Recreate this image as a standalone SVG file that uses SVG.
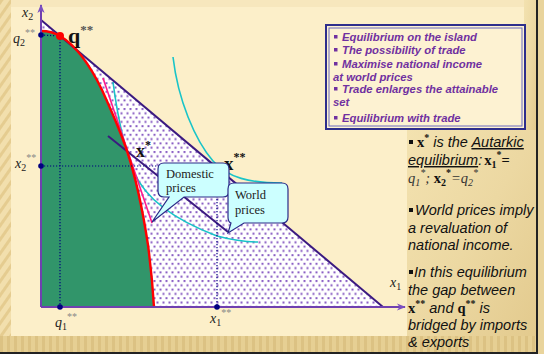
<svg xmlns="http://www.w3.org/2000/svg" width="544" height="354" viewBox="0 0 544 354">
<defs>
<pattern id="dots" width="6" height="8.6" patternUnits="userSpaceOnUse">
<rect width="6" height="8.6" fill="#ffffff"/>
<rect x="0.5" y="0.5" width="2" height="2" fill="#8a5ec4"/>
<rect x="3.5" y="4.8" width="2" height="2" fill="#8a5ec4"/>
</pattern>
<pattern id="stripes" width="8" height="8" patternUnits="userSpaceOnUse" patternTransform="rotate(35)">
<rect width="8" height="8" fill="#f2dfad"/>
<rect width="3" height="8" fill="#e5cc90"/>
</pattern>
<pattern id="vstripes" width="7" height="10" patternUnits="userSpaceOnUse">
<rect width="7" height="10" fill="#e6cf93"/>
<rect width="3" height="10" fill="#dcc283"/>
</pattern>
<linearGradient id="wood" x1="0" y1="0" x2="1" y2="1">
<stop offset="0" stop-color="#f3e2b0"/>
<stop offset="0.5" stop-color="#ecd8a2"/>
<stop offset="1" stop-color="#e2c98c"/>
</linearGradient>
<marker id="arr" viewBox="0 0 10 10" refX="9" refY="5" markerWidth="11" markerHeight="9" markerUnits="userSpaceOnUse" orient="auto">
<path d="M0,1 L10,5 L0,9 L3,5 Z" fill="#7b4fc0"/>
</marker>
</defs>
<style>
.lbl{font-family:"Liberation Serif","Times New Roman",serif;font-style:italic;font-size:14px;fill:#222;}
.sub{font-size:10px;font-style:normal;}
.ast{fill:#888;font-size:10px;font-style:normal;}
.bold{font-family:"Liberation Serif","Times New Roman",serif;font-weight:bold;fill:#111;}
.box{font-family:"Liberation Sans",Arial,sans-serif;font-weight:bold;font-style:italic;font-size:11.3px;fill:#7030a0;}
.body{font-family:"Liberation Sans",Arial,sans-serif;font-style:italic;font-size:14.5px;fill:#111;}
.bx{font-family:"Liberation Serif","Times New Roman",serif;font-weight:bold;font-style:normal;}
.sq{font-family:"Liberation Serif","Times New Roman",serif;font-style:italic;fill:#333;}
.bub{fill:#ccffff;stroke:#2a2a88;stroke-width:1.2;}
.bubt{font-family:"Liberation Serif","Times New Roman",serif;font-size:12.5px;fill:#222;}
.dotl{stroke:#000080;stroke-width:1.2;stroke-dasharray:1.2 1.8;fill:none;}
.nd{fill:#000080;}
</style>

<g id="background">
<rect width="544" height="354" fill="#e9d49c"/>
<rect x="0" y="0" width="11" height="354" fill="url(#stripes)"/>
<rect x="407" y="128" width="130" height="224" fill="url(#wood)"/>
<rect x="524" y="0" width="13" height="130" fill="url(#wood)"/>
<rect x="0" y="336" width="537" height="16" fill="url(#vstripes)"/>
<path d="M11,0 H524 V130 H407 V336 H11 Z" fill="#fcefc9"/>
<rect x="11" y="0" width="513" height="7" fill="#f7e7bd"/>
<rect x="536" y="0" width="2" height="354" fill="#222"/>
<rect x="0" y="352" width="538" height="2" fill="#222"/>
</g>

<g id="regions">
<path id="attainable" d="M41,20 L383,307 L41,307 Z" fill="url(#dots)"/>
<path id="ppf-area" d="M41,31 C48,31 55,33 60,36 C75,45 90,65 102,90 C112,112 121,133 127,151 C135,175 143,212 148,245 C151,268 153,290 154,307 L41,307 Z" fill="#31956a"/>
</g>

<g id="connectors">
<path d="M113,82 C118,120 125,150 134,172 C145,198 175,220 217,236 C232,240 245,242 258,242" fill="none" stroke="#19c4c8" stroke-width="1.6"/>
<path d="M173,57 C178,100 195,140 213,161 C228,178 250,183 282,183" fill="none" stroke="#19c4c8" stroke-width="1.6"/>
<line x1="103" y1="78" x2="152" y2="223" stroke="#ff1a8c" stroke-width="1.6"/>
<line x1="41" y1="20" x2="383" y2="307" stroke="#3b1a80" stroke-width="2"/>
<line x1="108" y1="136" x2="228" y2="232" stroke="#3b1a80" stroke-width="2"/>
<path d="M41,31 C48,31 55,33 60,36 C75,45 90,65 102,90 C112,112 121,133 127,151 C135,175 143,212 148,245 C151,268 153,290 154,307" fill="none" stroke="#ff0000" stroke-width="2.4"/>
<path class="dotl" d="M41,35 L60,36 M60,36 L60,307 M41,166 L217,166 M217,166 L217,307"/>
<line x1="41" y1="307" x2="41" y2="5" stroke="#7040b0" stroke-width="2" marker-end="url(#arr)"/>
<line x1="41" y1="307" x2="405" y2="307" stroke="#7040b0" stroke-width="2" marker-end="url(#arr)"/>
</g>

<g id="points">
<circle class="nd" cx="41" cy="35" r="2.8"/>
<circle class="nd" cx="41" cy="166" r="2.8"/>
<circle class="nd" cx="60" cy="307" r="2.8"/>
<circle class="nd" cx="217" cy="307" r="2.8"/>
<circle cx="60" cy="36" r="4" fill="#ff0000"/>
</g>

<g id="axis-labels">
<text class="lbl" x="22" y="17">x<tspan class="sub" dy="3">2</tspan></text>
<text class="lbl" x="13" y="43">q<tspan class="sub" dy="3">2</tspan><tspan class="ast" dy="-10">**</tspan></text>
<text class="lbl" x="15" y="168">x<tspan class="sub" dy="3">2</tspan><tspan class="ast" dy="-10">**</tspan></text>
<text class="lbl" x="55" y="327">q<tspan class="sub" dy="3">1</tspan><tspan class="ast" dy="-10">**</tspan></text>
<text class="lbl" x="210" y="323">x<tspan class="sub" dy="3">1</tspan><tspan class="ast" dy="-10">**</tspan></text>
<text class="lbl" x="390" y="287">x<tspan class="sub" dy="3">1</tspan></text>
</g>

<g id="point-labels">
<text class="bold" x="68" y="43" font-size="22">q<tspan font-size="13" dy="-9" fill="#555">**</tspan></text>
<text class="bold" x="136" y="157" font-size="18">x<tspan font-size="12" dy="-8">*</tspan></text>
<text class="bold" x="224" y="170" font-size="19">x<tspan font-size="12" dy="-9">**</tspan></text>
</g>

<g id="bubble-domestic">
<path class="bub" d="M164,163 H223 Q229,163 229,169 V191 Q229,197 223,197 H184 L152,222 L169,197 H164 Q158,197 158,191 V169 Q158,163 164,163 Z"/>
<text class="bubt" x="166" y="178">Domestic</text>
<text class="bubt" x="166" y="192">prices</text>
</g>

<g id="bubble-world">
<path class="bub" d="M234,183 H282 Q288,183 288,189 V217 Q288,223 282,223 H244 L228,233 L231,223 Q228,222 228,217 V189 Q228,183 234,183 Z"/>
<text class="bubt" x="235" y="199">World</text>
<text class="bubt" x="235" y="214">prices</text>
</g>

<g id="legend-box">
<rect x="326" y="25" width="199" height="104" fill="#fdf2d2" stroke="#2e2e8c" stroke-width="2"/>
<rect x="329" y="28" width="193" height="98" fill="none" stroke="#6a6ac0" stroke-width="1"/>
<rect x="334" y="35" width="3.5" height="3.5" fill="#7030a0"/>
<text class="box" x="342" y="41">Equilibrium on the island</text>
<rect x="334" y="48" width="3.5" height="3.5" fill="#7030a0"/>
<text class="box" x="342" y="54">The possibility of trade</text>
<rect x="334" y="62" width="3.5" height="3.5" fill="#7030a0"/>
<text class="box" x="342" y="68">Maximise national income</text>
<text class="box" x="333" y="81">at world prices</text>
<rect x="334" y="87" width="3.5" height="3.5" fill="#7030a0"/>
<text class="box" x="342" y="93">Trade enlarges the attainable</text>
<text class="box" x="333" y="106">set</text>
<rect x="334" y="116" width="3.5" height="3.5" fill="#7030a0"/>
<text class="box" x="342" y="122">Equilibrium with trade</text>
</g>

<g id="notes">
<rect x="409" y="140" width="4" height="4" fill="#111"/>
<text class="body" x="417" y="147"><tspan class="bx">x</tspan><tspan class="bx" font-size="10" dy="-6">*</tspan><tspan dy="6"> is the </tspan><tspan text-decoration="underline">Autarkic</tspan></text>
<text class="body" x="408" y="165"><tspan text-decoration="underline">equilibrium</tspan>:<tspan class="bx" dx="2">x</tspan><tspan class="bx" font-size="10" dy="3">1</tspan><tspan class="bx" font-size="10" dy="-10">*</tspan><tspan class="bx" dy="7">=</tspan></text>
<text class="body" x="408" y="183"><tspan class="sq">q</tspan><tspan class="sq" font-style="normal" font-size="10" dy="3">1</tspan><tspan class="sq" font-style="normal" font-size="10" dy="-10">*</tspan><tspan class="sq" font-style="normal" dy="7">; </tspan><tspan class="bx">x</tspan><tspan class="bx" font-size="10" dy="3">2</tspan><tspan class="bx" font-size="10" dy="-10">*</tspan><tspan class="sq" font-style="normal" dy="7">=</tspan><tspan class="sq">q</tspan><tspan class="sq" font-style="normal" font-size="10" dy="3">2</tspan><tspan class="sq" font-style="normal" font-size="10" dy="-10">*</tspan></text>
<rect x="409" y="208" width="4" height="4" fill="#111"/>
<text class="body" x="415" y="215">World prices imply</text>
<text class="body" x="408" y="233">a revaluation of</text>
<text class="body" x="408" y="250">national income.</text>
<rect x="409" y="270" width="4" height="4" fill="#111"/>
<text class="body" x="414" y="277">In this equilibrium</text>
<text class="body" x="408" y="295">the gap between</text>
<text class="body" x="408" y="313"><tspan class="bx">x</tspan><tspan class="bx" font-size="10" dy="-6">**</tspan><tspan dy="6"> and </tspan><tspan class="bx">q</tspan><tspan class="bx" font-size="10" dy="-6">**</tspan><tspan dy="6"> is</tspan></text>
<text class="body" x="408" y="330">bridged by imports</text>
<text class="body" x="408" y="347">&amp; exports</text>
</g>
</svg>
